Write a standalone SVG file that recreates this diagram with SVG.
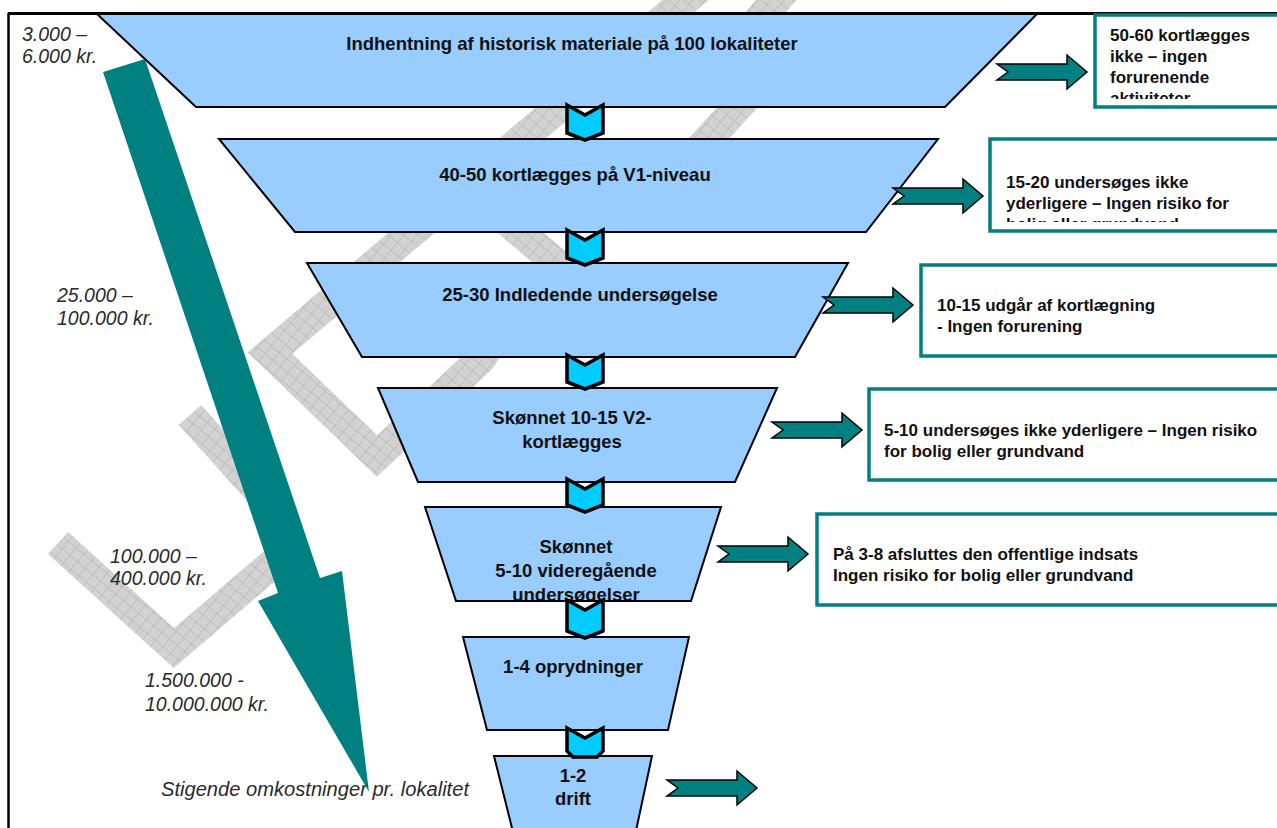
<svg xmlns="http://www.w3.org/2000/svg" width="1277" height="828" viewBox="0 0 1277 828">
<style>
.trap{fill:#99CCFF;stroke:#000;stroke-width:2;stroke-linejoin:miter}
.chev{fill:#00CCFF;stroke:#000;stroke-width:3.5;stroke-linejoin:miter}
.sarrow{fill:#008080;stroke:#000;stroke-width:1.5;stroke-linejoin:miter}
.box{fill:#fff;stroke:#008080;stroke-width:3.5}
.ft{font-family:"Liberation Sans",Arial,sans-serif;font-weight:bold;font-size:18.5px;fill:#111;text-anchor:middle}
.bt{font-family:"Liberation Sans",Arial,sans-serif;font-weight:bold;font-size:17px;fill:#111}
.it{font-family:"Liberation Sans",Arial,sans-serif;font-style:italic;font-size:19.5px;fill:#2a2a2a}
.band{fill:none;stroke:url(#hatch);stroke-width:30;stroke-linejoin:miter;stroke-linecap:butt}
</style>
<defs>
<pattern id="hatch" width="10" height="10" patternUnits="userSpaceOnUse" patternTransform="rotate(40)">
<rect width="10" height="10" fill="#d2d2d2"/>
<path d="M0,0H10M0,0V10" stroke="#a6a6a6" stroke-width="0.8"/>
</pattern>
<clipPath id="c1"><rect x="1097" y="17" width="200" height="82"/></clipPath>
<clipPath id="c2"><rect x="992" y="141" width="300" height="81"/></clipPath>
<clipPath id="c5"><polygon points="425,507 721,507 691,600 456,600"/></clipPath>
</defs>
<rect width="1277" height="828" fill="#fff"/>
<g id="watermark">
<polyline class="band" points="703,-15 270,353 377,456 480,360 520,300"/>
<polyline class="band" points="470,190 600,300"/>
<polyline class="band" points="680,170 790,50"/>
<polyline class="band" points="790,-15 740,40"/>
<polyline class="band" points="58,543 174,648 300,540"/>
<polyline class="band" points="190,415 280,515"/>
</g>
<g id="frame" fill="none" stroke="#000">
<path d="M8,13.5H1277" stroke-width="3"/>
<path d="M8.5,13V828" stroke-width="2.5"/>
</g>
<g id="cost-arrow">
<polygon points="103,72 145,59 320,578 342,571 369,792 258,601 278,593" fill="#008080"/>
</g>
<g id="funnel">
<g id="n1"><polygon class="trap" points="97,14 1037,14 945,107 196,107"/><text class="ft" x="572" y="50">Indhentning af historisk materiale på 100 lokaliteter</text></g>
<g id="n2"><polygon class="trap" points="219,139 938,139 866,232 295,232"/><text class="ft" x="575" y="181">40-50 kortlægges på V1-niveau</text></g>
<g id="n3"><polygon class="trap" points="307,263 848,263 795,357 362,357"/><text class="ft" x="580" y="301">25-30 Indledende undersøgelse</text></g>
<g id="n4"><polygon class="trap" points="378,388 777,388 735,482 418,482"/><text class="ft" x="572" y="424">Skønnet 10-15 V2-</text><text class="ft" x="572" y="448">kortlægges</text></g>
<g id="n5"><polygon class="trap" points="425,507 721,507 691,601 456,601"/><g clip-path="url(#c5)"><text class="ft" x="576" y="553">Skønnet</text><text class="ft" x="576" y="577">5-10 videregående</text><text class="ft" x="576" y="601">undersøgelser</text></g></g>
<g id="n6"><polygon class="trap" points="463,637 689,637 668,730 487,730"/><text class="ft" x="573" y="673">1-4 oprydninger</text></g>
<g id="n7"><polygon class="trap" points="494,756 652,756 634,840 515,840"/><text class="ft" x="573" y="782">1-2</text><text class="ft" x="573" y="805">drift</text></g>
</g>
<g id="connectors">
<polygon class="chev" points="567,105 585,115 603,105 603,133 585,140 567,133"/>
<polygon class="chev" points="567,230 585,240 603,230 603,258 585,265 567,258"/>
<polygon class="chev" points="567,355 585,365 603,355 603,382 585,389 567,382"/>
<polygon class="chev" points="567,479 585,489 603,479 603,505 585,512 567,505"/>
<polygon class="chev" points="567,600 585,610 603,600 603,631 585,638 567,631"/>
<polygon class="chev" points="567,728 585,738 603,728 603,751 597,757 573,757 567,751"/>
<polygon class="sarrow" points="997,64 1067,64 1067,55 1087,72 1067,89 1067,80 997,80 1008,72"/>
<polygon class="sarrow" points="893,188 963,188 963,179 983,196 963,213 963,204 893,204 904,196"/>
<polygon class="sarrow" points="823,297 893,297 893,288 913,305 893,322 893,313 823,313 834,305"/>
<polygon class="sarrow" points="772,422 842,422 842,413 862,430 842,447 842,438 772,438 783,430"/>
<polygon class="sarrow" points="718,546 788,546 788,537 808,554 788,571 788,562 718,562 729,554"/>
<polygon class="sarrow" points="667,780 737,780 737,771 757,788 737,805 737,796 667,796 678,788"/>
</g>
<g id="b1"><rect class="box" x="1095" y="15" width="210" height="92"/><g clip-path="url(#c1)"><text class="bt" x="1110" y="41">50-60 kortlægges</text><text class="bt" x="1110" y="62">ikke – ingen</text><text class="bt" x="1110" y="83">forurenende</text><text class="bt" x="1110" y="104">aktiviteter</text></g></g>
<g id="b2"><rect class="box" x="990" y="139" width="300" height="92"/><g clip-path="url(#c2)"><text class="bt" x="1006" y="188">15-20 undersøges ikke</text><text class="bt" x="1006" y="209">yderligere – Ingen risiko for</text><text class="bt" x="1006" y="230">bolig eller grundvand</text></g></g>
<g id="b3"><rect class="box" x="921" y="265" width="370" height="91"/><text class="bt" x="937" y="311">10-15 udgår af kortlægning</text><text class="bt" x="937" y="332">- Ingen forurening</text></g>
<g id="b4"><rect class="box" x="869" y="389" width="420" height="91"/><text class="bt" x="884" y="436">5-10 undersøges ikke yderligere – Ingen risiko</text><text class="bt" x="884" y="457">for bolig eller grundvand</text></g>
<g id="b5"><rect class="box" x="817" y="514" width="470" height="91"/><text class="bt" x="833" y="560">På 3-8 afsluttes den offentlige indsats</text><text class="bt" x="833" y="581">Ingen risiko for bolig eller grundvand</text></g>
<g id="cost-labels">
<text class="it" x="22" y="41">3.000 –</text>
<text class="it" x="22" y="63">6.000 kr.</text>
<text class="it" x="57" y="302">25.000 –</text>
<text class="it" x="57" y="325">100.000 kr.</text>
<text class="it" x="110" y="563">100.000 –</text>
<text class="it" x="110" y="585">400.000 kr.</text>
<text class="it" x="145" y="687">1.500.000 -</text>
<text class="it" x="145" y="711">10.000.000 kr.</text>
<text class="it" x="161" y="796" font-size="20" textLength="308" lengthAdjust="spacingAndGlyphs">Stigende omkostninger pr. lokalitet</text>
</g>
</svg>
